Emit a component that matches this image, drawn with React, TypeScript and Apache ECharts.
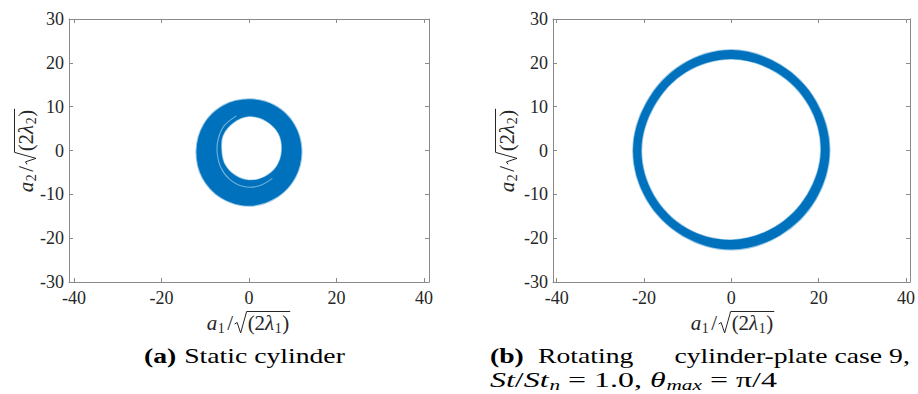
import React, { useEffect, useRef } from "react";
import * as echarts from "echarts";

// ---- data -----------------------------------------------------------------
// Tick positions shared by both panels
const X_TICKS = [-40, -20, 0, 20, 40];
const Y_MIN = -30;
const Y_MAX = 30;
const Y_STEP = 10;

// Polar outline of each point cloud: angle (deg) and radius from the origin
const RING_ANGLES = [0, 30, 60, 90, 120, 150, 180, 210, 240, 270, 300, 330];

// (a) static cylinder: thick annulus
const STATIC_OUTER = [12.0, 11.9, 11.8, 11.7, 11.8, 11.9, 12.0, 12.3, 12.5, 12.6, 12.4, 12.2];
const STATIC_INNER = [7.5, 7.8, 7.8, 7.8, 7.3, 6.9, 6.3, 6.4, 6.5, 6.8, 7.0, 7.3];
// sparse lane inside the annulus
const STATIC_GAP_ANGLES = [110, 135, 160, 185, 210, 235, 260, 285, 310];
const STATIC_GAP_R = [8.4, 8.0, 7.5, 7.3, 7.5, 7.9, 8.3, 8.4, 8.3];

// (b) rotating cylinder-plate: thin ring
const ROTATING_OUTER = [22.5, 22.4, 22.5, 22.9, 22.6, 22.3, 22.5, 22.4, 22.4, 22.6, 22.3, 22.3];
const ROTATING_INNER = [20.5, 20.5, 20.6, 20.9, 20.7, 20.4, 20.6, 20.5, 20.5, 20.4, 20.1, 20.1];

// ---- styling ----------------------------------------------------------------
const BLUE = "#0072BD";
const AXIS_GRAY = "#8a8a8a";
const TEXT = "#262626";
const SERIF = "'Liberation Serif', 'Times New Roman', Times, serif";

const measureCtx = document.createElement("canvas").getContext("2d") as CanvasRenderingContext2D;
function textWidth(font: string, t: string) {
  measureCtx.font = font;
  return measureCtx.measureText(t).width;
}

type Piece = { t?: string; k?: string; sqrt?: "open" | "close"; gap?: number };

const KINDS: Record<string, { size: number; style: string; weight: string; dy: number }> = {
  rm: { size: 21, style: "normal", weight: "normal", dy: 0 },
  it: { size: 21, style: "italic", weight: "normal", dy: 0 },
  bf: { size: 21, style: "normal", weight: "bold", dy: 0 },
  sub: { size: 14, style: "normal", weight: "normal", dy: 5 },
  subit: { size: 14, style: "italic", weight: "normal", dy: 5 },
};

// Lays out a run of text pieces left to right; returns children and total width.
function layout(pieces: Piece[], color: string) {
  const children: any[] = [];
  let x = 0;
  let sqrtX = 0;
  for (const p of pieces) {
    if (p.sqrt === "open") {
      sqrtX = x;
      x += 13;
      continue;
    }
    if (p.sqrt === "close") {
      children.push({
        type: "polyline",
        shape: {
          points: [
            [sqrtX, 1],
            [sqrtX + 2.5, -0.5],
            [sqrtX + 6, 10],
            [sqrtX + 12, -11.5],
            [x + 1, -11.5],
          ],
        },
        style: { stroke: color, lineWidth: 1, fill: "none" },
      });
      x += 2;
      continue;
    }
    const k = KINDS[p.k || "rm"];
    const font = `${k.style} ${k.weight} ${k.size}px ${SERIF}`;
    const w = textWidth(font, p.t || "");
    children.push({
      type: "text",
      x,
      y: k.dy,
      style: {
        text: p.t,
        fontFamily: SERIF,
        fontSize: k.size,
        fontStyle: k.style,
        fontWeight: k.weight,
        fill: color,
        align: "left",
        verticalAlign: "middle",
      },
    });
    x += w + (p.gap || 0);
  }
  return { children, width: x };
}

// Group anchored at its centre, left or right edge, optionally rotated / stretched
function mathGroup(
  pieces: Piece[],
  opts: { x: number; y: number; anchor?: "center" | "left" | "right"; rotation?: number; width?: number; scaleX?: number; color?: string }
) {
  const { children, width } = layout(pieces, opts.color || TEXT);
  const s = opts.width ? opts.width / width : opts.scaleX || 1;
  const anchor = opts.anchor || "center";
  const shift = anchor === "center" ? -width / 2 : anchor === "right" ? -width : 0;
  return {
    group: {
      type: "group",
      x: opts.x,
      y: opts.y,
      rotation: opts.rotation || 0,
      scaleX: s,
      children: [{ type: "group", x: shift, children }],
    },
    scale: s,
    width,
  };
}

const X_LABEL = (n: string): Piece[] => [
  { t: "a", k: "it", gap: 0.5 },
  { t: n, k: "sub", gap: 2.5 },
  { t: "/", k: "rm", gap: 1.5 },
  { sqrt: "open" },
  { t: "(2", k: "rm" },
  { t: "λ", k: "it", gap: 0.5 },
  { t: n, k: "sub", gap: 0.5 },
  { t: ")", k: "rm" },
  { sqrt: "close" },
];

function ringSeries(
  axisIdx: number,
  outer: number[],
  inner: number[],
  gapAngles?: number[],
  gapR?: number[]
) {
  const toXY = (a: number, r: number) => [r * Math.cos((a * Math.PI) / 180), r * Math.sin((a * Math.PI) / 180)];
  return {
    type: "custom",
    xAxisIndex: axisIdx * 2,
    yAxisIndex: axisIdx * 2,
    data: [[0, 0]],
    silent: true,
    renderItem: (_params: any, api: any) => {
      const outerPts = RING_ANGLES.map((a, i) => api.coord(toXY(a, outer[i])));
      const innerPts = RING_ANGLES.map((a, i) => api.coord(toXY(a, inner[i])));
      const children: any[] = [
        {
          type: "polygon",
          shape: { points: outerPts, smooth: 0.35 },
          style: { fill: BLUE, stroke: "rgba(0,114,189,0.4)", lineWidth: 2 },
        },
        {
          type: "polygon",
          shape: { points: innerPts, smooth: 0.35 },
          style: { fill: "#ffffff", stroke: "rgba(0,114,189,0.4)", lineWidth: 1.5 },
        },
      ];
      if (gapAngles && gapR) {
        const gapPts = gapAngles.map((a, i) => api.coord(toXY(a, gapR[i])));
        children.push({
          type: "polyline",
          shape: { points: gapPts, smooth: 0.35 },
          style: { stroke: "rgba(255,255,255,0.45)", lineWidth: 1.1, fill: "none" },
        });
      }
      return { type: "group", children };
    },
  };
}

function axesFor(gridIndex: number, xMin: number, xMax: number) {
  const tick = { show: true, inside: true, length: 4, lineStyle: { color: AXIS_GRAY, width: 1 } };
  const line = { show: true, onZero: false, lineStyle: { color: AXIS_GRAY, width: 1 } };
  const label = { color: TEXT, fontFamily: SERIF, fontSize: 18 };
  const x = [
    {
      gridIndex,
      type: "value",
      min: xMin,
      max: xMax,
      position: "bottom",
      axisLine: line,
      axisTick: { ...tick, customValues: X_TICKS },
      axisLabel: { ...label, margin: 7, customValues: X_TICKS },
      splitLine: { show: false },
    },
    {
      gridIndex,
      type: "value",
      min: xMin,
      max: xMax,
      position: "top",
      axisLine: line,
      axisTick: { ...tick, customValues: X_TICKS },
      axisLabel: { show: false, customValues: X_TICKS },
      splitLine: { show: false },
    },
  ];
  const y = [
    {
      gridIndex,
      type: "value",
      min: Y_MIN,
      max: Y_MAX,
      interval: Y_STEP,
      position: "left",
      axisLine: line,
      axisTick: tick,
      axisLabel: { ...label, margin: 5 },
      splitLine: { show: false },
    },
    {
      gridIndex,
      type: "value",
      min: Y_MIN,
      max: Y_MAX,
      interval: Y_STEP,
      position: "right",
      axisLine: line,
      axisTick: tick,
      axisLabel: { show: false },
      splitLine: { show: false },
    },
  ];
  return { x, y };
}

function buildOption() {
  const a = axesFor(0, -41.14, 41.14);
  const b = axesFor(1, -40.85, 40.9);

  const graphics: any[] = [];
  // axis titles
  graphics.push(mathGroup(X_LABEL("1"), { x: 249, y: 323 }).group);
  graphics.push(mathGroup(X_LABEL("1"), { x: 733, y: 323 }).group);
  graphics.push(mathGroup(X_LABEL("2"), { x: 26, y: 150, rotation: Math.PI / 2 }).group);
  graphics.push(mathGroup(X_LABEL("2"), { x: 507, y: 150, rotation: Math.PI / 2 }).group);

  // captions
  const capA = mathGroup(
    [
      { t: "(a)", k: "bf", gap: 6 },
      { t: "Static cylinder", k: "rm" },
    ],
    { x: 244.5, y: 356, width: 201, color: "#000" }
  );
  graphics.push(capA.group);
  const s = capA.scale;
  graphics.push(mathGroup([{ t: "(b)", k: "bf" }], { x: 490, y: 356, anchor: "left", scaleX: s, color: "#000" }).group);
  graphics.push(mathGroup([{ t: "Rotating", k: "rm" }], { x: 538, y: 356, anchor: "left", scaleX: s, color: "#000" }).group);
  graphics.push(
    mathGroup([{ t: "cylinder-plate case 9,", k: "rm" }], { x: 910, y: 356, anchor: "right", scaleX: s, color: "#000" }).group
  );
  graphics.push(
    mathGroup(
      [
        { t: "St", k: "it" },
        { t: "/", k: "rm" },
        { t: "St", k: "it", gap: 0.5 },
        { t: "n", k: "subit" },
        { t: " = 1.0, ", k: "rm" },
        { t: "θ", k: "it", gap: 0.5 },
        { t: "max", k: "subit" },
        { t: " = π/4", k: "rm" },
      ],
      { x: 490, y: 380, anchor: "left", width: 287, color: "#000" }
    ).group
  );

  return {
    animation: false,
    backgroundColor: "#ffffff",
    grid: [
      { left: 69, top: 19, width: 360, height: 263 },
      { left: 553, top: 19, width: 361, height: 263 },
    ],
    xAxis: [...a.x, ...b.x],
    yAxis: [...a.y, ...b.y],
    series: [
      ringSeries(0, STATIC_OUTER, STATIC_INNER, STATIC_GAP_ANGLES, STATIC_GAP_R),
      ringSeries(1, ROTATING_OUTER, ROTATING_INNER),
    ],
    graphic: { elements: graphics },
  };
}

export default function App() {
  const ref = useRef<HTMLDivElement>(null);
  useEffect(() => {
    if (!ref.current) return;
    const chart = echarts.init(ref.current, null, { renderer: "svg" });
    chart.setOption(buildOption() as any);
    return () => chart.dispose();
  }, []);
  return <div ref={ref} style={{ position: "absolute", left: 0, top: 0, width: 918, height: 394 }} />;
}
